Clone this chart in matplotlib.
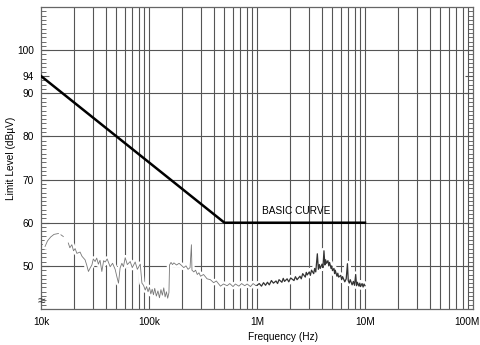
import matplotlib
matplotlib.use("Agg")
import matplotlib.pyplot as plt
import matplotlib.transforms as mtransforms
import numpy as np
from matplotlib.ticker import FixedLocator, MultipleLocator, NullFormatter

plt.rcParams['font.family'] = ['Liberation Sans', 'DejaVu Sans']

# limit line (basic curve)
limit_freq = [10e3, 500e3, 10e6]
limit_level = [94, 60, 60]

trace_freq = [
    10.9e3, 11.5e3, 12.3e3, 13.2e3, 14.5e3, 14.9e3, 15.3e3, 16.1e3, 17.0e3,
    17.9e3, 18.5e3, 19.3e3, 20.0e3, 20.7e3, 21.5e3, 23.0e3, 24.0e3, 25.6e3,
    26.5e3, 27.5e3, 28.5e3, 29.6e3, 30.5e3, 31.7e3, 32.8e3, 34.0e3, 35.2e3,
    36.6e3, 38.0e3, 39.3e3, 41.0e3, 43.7e3, 46.0e3, 48.6e3, 50.4e3, 52.2e3,
    54.0e3, 56.1e3, 58.0e3, 60.2e3, 63.0e3, 67.0e3, 70.0e3, 74.5e3, 78.0e3,
    83.0e3, 86.0e3, 89.0e3, 92.3e3,
    95e3, 98e3, 101e3, 104e3, 107e3, 110e3, 113e3, 117e3, 121e3, 125e3,
    129e3, 133e3, 137e3, 141e3, 145e3, 149e3, 153e3,
    155e3, 160e3, 165e3, 170e3, 180e3, 190e3, 200e3, 210e3, 220e3, 230e3,
    240e3, 247e3, 250e3, 260e3, 270e3, 280e3, 290e3, 300e3, 320e3, 345e3,
    370e3, 397e3, 420e3, 459e3, 490e3, 529e3, 560e3, 600e3, 631e3, 680e3,
    720e3, 770e3, 811e3, 870e3, 920e3, 968e3,
]
trace_level = [
    54.5, 55.8, 56.7, 57.3, 57.5, np.nan, 57.2, 56.8, np.nan,
    55.3, 54.2, 54.9, 53.5, 54.0, 52.9, 53.2, 52.2, 51.4,
    50.2, 48.7, 49.5, 50.2, 51.6, 51.0, 51.8, 50.4, 51.3,
    48.7, 51.2, 50.9, 51.6, 49.8, 50.6, 49.2, 47.5, 46.0,
    49.5, 50.6, 49.8, 51.9, 50.3, 51.0, 49.6, 50.9, 49.2,
    50.4, 46.0, 45.5, 44.4,
    45.2, 44.0, 45.0, 43.5, 44.6, 43.3, 44.8, 43.0, 44.2, 42.6,
    44.5, 43.2, 44.9, 42.8, 44.0, 42.5, 43.8,
    50.2, 50.8, 50.3, 50.7, 50.2, 50.6, 50.1, 49.6, 50.0, 49.2,
    49.6, 54.9, 49.0, 48.6, 49.0, 48.0, 48.4, 47.6, 48.0, 47.0,
    46.8, 46.1, 46.5, 45.3, 45.8, 45.4, 45.9, 45.2, 45.8, 45.3,
    45.9, 45.4, 45.8, 45.2, 45.9, 45.5,
]

# dense (dark) part of the trace, 1 MHz - 10 MHz
dense_freq = [
    1.0e6, 1.05e6, 1.1e6, 1.15e6, 1.2e6, 1.25e6, 1.3e6, 1.36e6, 1.42e6, 1.5e6,
    1.55e6, 1.6e6, 1.7e6, 1.75e6, 1.8e6, 1.9e6, 1.97e6, 2.05e6, 2.2e6, 2.27e6,
    2.35e6, 2.5e6, 2.57e6, 2.65e6, 2.8e6, 2.86e6, 2.92e6, 3.05e6, 3.12e6,
    3.2e6, 3.35e6, 3.42e6, 3.5e6, 3.62e6, 3.7e6, 3.78e6, 3.85e6, 4.0e6,
    4.08e6, 4.17e6, 4.25e6, 4.32e6, 4.4e6, 4.54e6, 4.62e6, 4.7e6, 4.85e6,
    4.92e6, 5.0e6, 5.16e6, 5.23e6, 5.3e6, 5.5e6, 5.6e6, 5.7e6, 5.96e6,
    6.08e6, 6.2e6, 6.5e6, 6.7e6, 6.88e6, 7.0e6, 7.15e6, 7.3e6, 7.6e6,
    7.8e6, 8.0e6, 8.2e6, 8.35e6, 8.5e6, 8.8e6, 8.95e6, 9.1e6, 9.4e6,
    9.6e6, 9.8e6, 10.0e6,
]
dense_level = [
    45.5, 45.9, 45.3, 46.1, 45.5, 46.2, 45.6, 46.6, 46.0, 46.5,
    45.9, 46.8, 46.2, 47.1, 46.4, 47.0, 46.3, 47.2, 46.6, 47.5,
    46.8, 47.6, 47.0, 48.2, 47.4, 48.5, 47.9, 48.6, 47.8,
    49.0, 48.2, 49.4, 48.6, 52.8, 49.2, 50.3, 49.4, 50.4,
    49.6, 53.5, 50.2, 51.4, 50.6, 51.2, 50.0, 50.8, 49.4,
    50.0, 48.9, 49.4, 48.2, 49.0, 47.6, 48.3, 47.4, 47.8,
    46.8, 47.5, 46.3, 47.0, 50.5, 46.6, 46.0, 46.8, 45.6,
    46.4, 45.5, 48.0, 45.4, 46.2, 45.3, 46.0, 45.2, 45.9,
    45.1, 45.8, 45.4,
]

x_ticks = [1e4, 1e5, 1e6, 1e7, 1e8]
x_labels = ['10k', '100k', '1M', '10M', '100M']
y_ticks = [50, 60, 70, 80, 90, 94, 100]

fig = plt.figure(figsize=(4.8, 3.45), dpi=100)
ax = fig.add_axes([0.0854, 0.1043, 0.9, 0.8754])
ax.set_xscale('log')
ax.set_xlim(1e4, 1e8)
ax.set_ylim(40, 110)

# grid
grid_col = '#555555'
vlines = [m * 10 ** d for d in range(4, 8) for m in range(1, 10)][1:]
for v in vlines:
    ax.axvline(v, color=grid_col, lw=0.8, zorder=1)
for h in range(50, 110, 10):
    ax.axhline(h, color=grid_col, lw=0.8, zorder=1)

# measurement trace with white halo (pasted look)
ax.plot(trace_freq, trace_level, color='white', lw=4, zorder=2,
        solid_joinstyle='round')
ax.plot(dense_freq, dense_level, color='white', lw=4.5, zorder=2)
ax.plot(trace_freq, trace_level, color='#777777', lw=0.6, zorder=3)
ax.plot([trace_freq[-1], dense_freq[0]], [trace_level[-1], dense_level[0]],
        color='#777777', lw=0.6, zorder=3)
ax.plot(dense_freq, dense_level, color='#333333', lw=0.9, zorder=3)

# limit line
ax.plot(limit_freq, limit_level, color='black', lw=1.8, zorder=4)
ax.text(1.12e6, 62.8, 'BASIC CURVE', fontsize=7.3, va='center', ha='left',
        zorder=5)

# axes / ticks
ax.xaxis.set_major_locator(FixedLocator(x_ticks))
ax.set_xticklabels(x_labels)
ax.xaxis.set_minor_formatter(NullFormatter())
ax.tick_params(axis='x', which='both', length=0, pad=6, labelsize=7.3)
last = ax.get_xticklabels()[-1]
last.set_transform(last.get_transform() +
                   mtransforms.ScaledTranslation(-6 / 100, 0, fig.dpi_scale_trans))
ax.set_yticks(y_ticks)
ax.yaxis.set_minor_locator(MultipleLocator(1))
ax.tick_params(axis='y', which='major', direction='in', length=6,
               left=True, right=True, labelsize=7.3, pad=5, color=grid_col)
ax.tick_params(axis='y', which='minor', direction='in', length=3.5,
               left=True, right=True, color=grid_col)
for s in ax.spines.values():
    s.set_color('#666666')
    s.set_linewidth(0.9)

# axis break mark
ax.text(1e4, 41.8, '\u2248', fontsize=10, ha='center', va='center',
        color='#333333', zorder=6)

ax.set_xlabel('Frequency (Hz)', fontsize=7.3, labelpad=5)
ax.xaxis.set_label_coords(0.56, -0.075)
ax.set_ylabel('Limit Level (dB\u00b5V)', fontsize=7.3, labelpad=1)

fig.savefig('out.png', dpi=100)
